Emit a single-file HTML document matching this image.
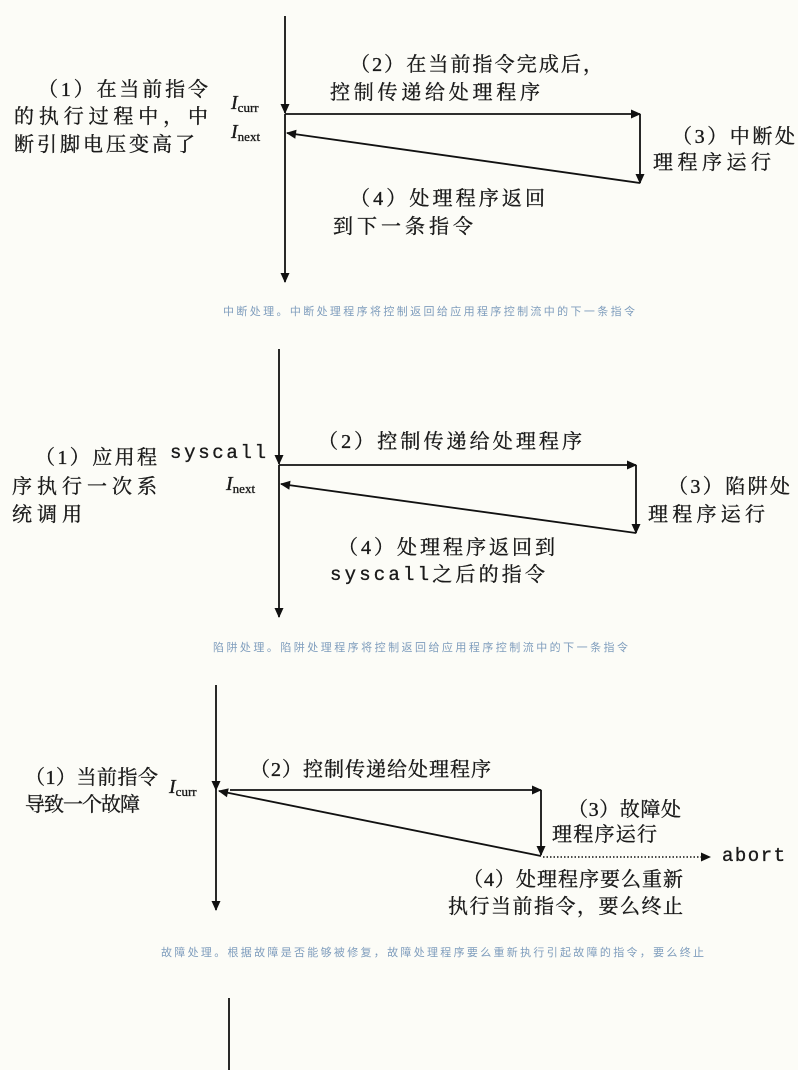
<!DOCTYPE html>
<html><head><meta charset="utf-8"><style>
html,body{margin:0;padding:0;background:#fcfcf7;}
svg{display:block}
text{font-family:"Liberation Serif","Noto Serif CJK SC","Noto Sans CJK SC",serif;font-size:20px;fill:#1a1a1a;dominant-baseline:central;stroke:#1a1a1a;stroke-width:0.35}
.c{font-family:"Liberation Sans","Noto Sans CJK SC",sans-serif;font-size:11px;fill:#7f9dbd;stroke:none}
.m{font-family:"Liberation Mono",monospace;font-size:19px}
.i{font-style:italic;font-size:20px}
.s{font-size:13px;font-style:normal}
</style></head><body>
<svg width="798" height="1070" viewBox="0 0 798 1070" xmlns="http://www.w3.org/2000/svg">
<defs><marker id="a" viewBox="0 0 10 10" refX="9" refY="5" markerWidth="11" markerHeight="10" orient="auto-start-reverse" markerUnits="userSpaceOnUse"><path d="M0,0.5 L10,5 L0,9.5 z" fill="#111"/></marker></defs>
<g stroke="#111" stroke-width="1.8" fill="none">
<!-- D1 -->
<line x1="285" y1="16" x2="285" y2="113" marker-end="url(#a)"/>
<line x1="285" y1="114" x2="285" y2="282" marker-end="url(#a)"/>
<line x1="285" y1="114" x2="640" y2="114" marker-end="url(#a)"/>
<line x1="640" y1="114" x2="640" y2="183" marker-end="url(#a)"/>
<line x1="640" y1="183" x2="287" y2="133" marker-end="url(#a)"/>
<!-- D2 -->
<line x1="279" y1="349" x2="279" y2="464" marker-end="url(#a)"/>
<line x1="279" y1="465" x2="279" y2="617" marker-end="url(#a)"/>
<line x1="279" y1="465" x2="636" y2="465" marker-end="url(#a)"/>
<line x1="636" y1="465" x2="636" y2="533" marker-end="url(#a)"/>
<line x1="636" y1="533" x2="281" y2="484" marker-end="url(#a)"/>
<!-- D3 -->
<line x1="216" y1="685" x2="216" y2="790" marker-end="url(#a)"/>
<line x1="216" y1="790" x2="216" y2="910" marker-end="url(#a)"/>
<line x1="230" y1="790" x2="541" y2="790" marker-end="url(#a)"/>
<line x1="541" y1="790" x2="541" y2="855" marker-end="url(#a)"/>
<line x1="541" y1="856" x2="219" y2="791" marker-end="url(#a)"/>
<line x1="543" y1="857" x2="710" y2="857" stroke-width="1.5" stroke-dasharray="1.5,2" marker-end="url(#a)"/>
<!-- D4 -->
<line x1="229" y1="998" x2="229" y2="1070"/>
</g>
<!-- D1 text -->
<text x="38" y="90" textLength="170">（1）在当前指令</text>
<text x="14" y="117" textLength="194">的执行过程中，中</text>
<text x="14" y="145" textLength="181">断引脚电压变高了</text>
<text class="i" x="231" y="103">I<tspan class="s" dy="4">curr</tspan></text>
<text class="i" x="231" y="132">I<tspan class="s" dy="4">next</tspan></text>
<text x="350" y="65" textLength="253">（2）在当前指令完成后，</text>
<text x="330" y="93" textLength="210">控制传递给处理程序</text>
<text x="672" y="137" textLength="123">（3）中断处</text>
<text x="653" y="163" textLength="118">理程序运行</text>
<text x="350" y="199" textLength="195">（4）处理程序返回</text>
<text x="333" y="227" textLength="140">到下一条指令</text>
<text class="c" x="223" y="312" textLength="412">中断处理。中断处理程序将控制返回给应用程序控制流中的下一条指令</text>
<!-- D2 text -->
<text x="35" y="458" textLength="122">（1）应用程</text>
<text x="12" y="487" textLength="145">序执行一次系</text>
<text x="12" y="515" textLength="70">统调用</text>
<text class="m" x="170" y="453" textLength="96">syscall</text>
<text class="i" x="226" y="484">I<tspan class="s" dy="4">next</tspan></text>
<text x="318" y="442" textLength="264">（2）控制传递给处理程序</text>
<text x="668" y="487" textLength="122">（3）陷阱处</text>
<text x="648" y="515" textLength="117">理程序运行</text>
<text x="338" y="548" textLength="217">（4）处理程序返回到</text>
<text x="330" y="575" textLength="215"><tspan class="m">syscall</tspan>之后的指令</text>
<text class="c" x="213" y="648" textLength="415">陷阱处理。陷阱处理程序将控制返回给应用程序控制流中的下一条指令</text>
<!-- D3 text -->
<text x="25" y="778" textLength="133">（1）当前指令</text>
<text x="25" y="805" textLength="115">导致一个故障</text>
<text class="i" x="169" y="787">I<tspan class="s" dy="4">curr</tspan></text>
<text x="250" y="770" textLength="241">（2）控制传递给处理程序</text>
<text x="568" y="810" textLength="113">（3）故障处</text>
<text x="552" y="835" textLength="105">理程序运行</text>
<text class="m" x="722" y="856" textLength="63">abort</text>
<text x="463" y="880" textLength="220">（4）处理程序要么重新</text>
<text x="448" y="907" textLength="235">执行当前指令，要么终止</text>
<text class="c" x="161" y="953" textLength="543">故障处理。根据故障是否能够被修复，故障处理程序要么重新执行引起故障的指令，要么终止</text>
</svg>
</body></html>
